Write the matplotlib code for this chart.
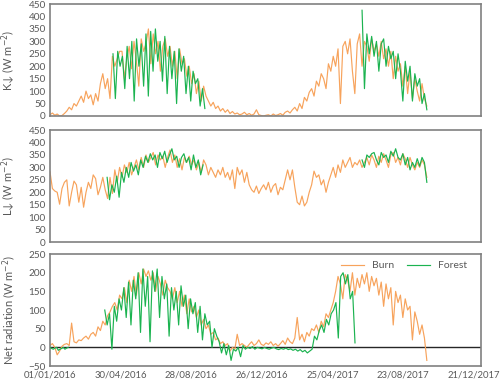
import numpy as np
import pandas as pd
import matplotlib
matplotlib.use("Agg")
import matplotlib.pyplot as plt

# ── Datos (muestreo aprox. cada 4 días) ───────────────────
BURN_START, BURN_END = "2016-01-01", "2017-10-02"

# K↓ incoming shortwave (W m-2)
burn_k = [
    5, 12, 3, 8, 0, 2, 10, 20, 35, 25,
    50, 40, 60, 80, 55, 100, 70, 85, 45, 90,
    60, 130, 170, 110, 150, 70, 240, 200, 230, 260,
    260, 150, 230, 280, 190, 300, 220, 120, 310, 260,
    290, 350, 210, 330, 250, 300, 180, 280, 310, 240,
    280, 200, 260, 150, 270, 210, 230, 160, 200, 130,
    170, 90, 140, 60, 120, 80, 60, 40, 55, 30,
    40, 20, 30, 15, 25, 10, 18, 8, 12, 5,
    8, 15, 5, 10, 3, 8, 25, 5, 2, 0,
    3, 5, 0, 8, 2, 5, 10, 3, 15, 20,
    12, 25, 35, 20, 50, 30, 75, 60, 95, 110,
    80, 140, 120, 170, 150, 110, 210, 180, 240, 200,
    270, 50, 280, 300, 250, 310, 180, 90, 290, 330,
    200, 300, 280, 220, 310, 260, 290, 240, 300, 230,
    270, 200, 260, 150, 240, 180, 210, 120, 200, 90,
    180, 70, 150, 100, 60, 130, 70, 40,
]
forest_k1_span = ("2016-04-17", "2016-09-20")
forest_k1 = [
    250, 70, 260, 200, 240, 110, 280, 150, 300, 60,
    310, 200, 290, 120, 330, 80, 340, 180, 350, 220,
    300, 140, 320, 90, 280, 150, 260, 50, 270, 180,
    240, 90, 200, 60, 180, 130, 150, 40, 110, 30,
]
forest_k2_span = ("2017-06-14", "2017-10-02")
forest_k2 = [
    425, 110, 330, 250, 320, 240, 300, 180, 290, 310,
    200, 280, 230, 260, 150, 250, 180, 60, 220, 140,
    200, 60, 170, 120, 150, 50, 90, 25,
]

# L↓ incoming longwave (W m-2)
burn_l = [
    282, 215, 205, 200, 152, 215, 240, 250, 145, 200,
    245, 230, 160, 220, 140, 200, 240, 215, 270, 255,
    190, 220, 260, 210, 175, 260, 195, 290, 240, 300,
    260, 310, 280, 320, 270, 300, 330, 290, 340, 300,
    350, 320, 340, 360, 310, 350, 330, 345, 300, 340,
    370, 320, 350, 300, 335, 290, 340, 320, 345, 310,
    330, 290, 320, 280, 330, 310, 270, 300, 280, 260,
    290, 270, 300, 260, 280, 250, 290, 215, 300, 270,
    290, 240, 280, 230, 210, 200, 225, 195, 215, 230,
    210, 240, 200, 225, 235, 190, 220, 210, 250, 290,
    250, 290, 220, 160, 150, 185, 145, 160, 200, 230,
    285, 260, 270, 230, 250, 200, 240, 270, 300, 260,
    310, 280, 330, 300, 320, 340, 300, 320, 310, 330,
    300, 320, 340, 310, 350, 330, 300, 345, 320, 355,
    330, 300, 350, 360, 320, 340, 310, 355, 335, 300,
    340, 310, 290, 320, 300, 330, 310, 260,
]
forest_l1_span = ("2016-04-07", "2016-09-17")
forest_l1 = [
    260, 170, 230, 200, 265, 180, 280, 240, 300, 260,
    320, 285, 310, 270, 330, 300, 345, 320, 355, 330,
    350, 300, 360, 335, 365, 320, 350, 375, 330, 345,
    300, 340, 355, 320, 340, 290, 350, 300, 330, 270, 310,
]
forest_l2_span = ("2017-06-14", "2017-10-02")
forest_l2 = [
    330, 300, 350, 340, 355, 360, 330, 310, 360, 340,
    350, 320, 365, 345, 375, 340, 330, 355, 310, 340,
    290, 320, 300, 335, 305, 340, 320, 240,
]

# Net radiation (W m-2)
burn_net = [
    5, 10, 0, -20, -10, 3, 8, 10, 5, 65,
    15, 12, 20, 18, 25, 30, 22, 35, 40, 30,
    55, 45, 70, 60, 85, 95, 110, 120, 100, 140,
    130, 160, 120, 180, 150, 190, 140, 200, 170, 210,
    190, 205, 180, 200, 150, 190, 170, 140, 180, 160,
    150, 130, 160, 120, 150, 110, 140, 90, 130, 95,
    110, 80, 100, 60, 75, 50, 60, 35, 40, 20,
    25, 10, 15, 5, 10, -10, 0, -5, 35, 5,
    10, 5, 0, 8, 15, 5, 10, 20, 8, 5,
    12, 8, 15, 5, 10, 3, 10, 18, 8, 25,
    15, 10, 25, 80, 20, 35, 15, 40, 30, 50,
    45, 60, 40, 70, 55, 90, 80, 100, 120, 150,
    190, 170, 130, 195, 180, 150, 200, 140, 185, 160,
    195, 170, 200, 150, 190, 165, 185, 140, 175, 110,
    170, 130, 160, 60, 150, 120, 140, 80, 130, 100,
    110, 20, 95, 70, 35, 60, 25, -35,
]
forest_net0_span = ("2016-01-01", "2016-02-01")
forest_net0 = [0, -3, -5, -2, 0, -8, -5, -3, 0, -5, -2, 0]
forest_net1_span = ("2016-04-03", "2017-06-02")
forest_net1 = [
    100, 60, 90, -5, 110, 70, 130, 100, 160, 80,
    175, 60, 180, 130, 200, 40, 210, 110, 190, 15,
    205, 150, 210, 80, 190, 130, 170, 30, 160, 100,
    150, 60, 165, 110, 140, 50, 130, 90, 120, 40,
    110, 20, 90, 60, 70, 0, 50, 30, 15, -15,
    10, -20, 5, -35, -5, -10, 0, -25, 5, -5,
    0, -3, 2, -5, 0, -2, -4, 0, -3, -5,
    -2, 0, -4, -6, -3, -5, -2, -6, -4, -8,
    -5, -10, -6, -12, -8, -15, -10, -5, 30, 20,
    45, 60, 40, 75, 60, 90, 100, 120, 25, 190,
    200, 170, 195, 130, 150, 12,
]

tick_dates = pd.date_range("2016-01-01", periods=7, freq="120D")
X_END = pd.Timestamp("2018-01-02")

ORANGE = "#F7A35C"
GREEN = "#1BB350"
GRAY = "#595959"


def dates(span, values):
    return pd.date_range(span[0], span[1], periods=len(values))


plt.rcParams["font.family"] = ["Lato", "DejaVu Sans"]

fig = plt.figure(figsize=(5.0, 3.86), dpi=100)
left, width, height = 0.10, 0.862, 0.29
ax1 = fig.add_axes([left, 0.6995, width, height])
ax2 = fig.add_axes([left, 0.373, width, height], sharex=ax1)
ax3 = fig.add_axes([left, 0.0518, width, height], sharex=ax1)
LW = 0.85
burn_span = (BURN_START, BURN_END)

# K↓
ax1.plot(dates(burn_span, burn_k), burn_k, color=ORANGE, lw=LW)
ax1.plot(dates(forest_k1_span, forest_k1), forest_k1, color=GREEN, lw=LW)
ax1.plot(dates(forest_k2_span, forest_k2), forest_k2, color=GREEN, lw=LW)
ax1.set_ylim(0, 450)
ax1.set_yticks(np.arange(0, 451, 50))
ax1.set_ylabel("K↓ (W m$^{-2}$)")

# L↓
ax2.plot(dates(burn_span, burn_l), burn_l, color=ORANGE, lw=LW)
ax2.plot(dates(forest_l1_span, forest_l1), forest_l1, color=GREEN, lw=LW)
ax2.plot(dates(forest_l2_span, forest_l2), forest_l2, color=GREEN, lw=LW)
ax2.set_ylim(0, 450)
ax2.set_yticks(np.arange(0, 451, 50))
ax2.set_ylabel("L↓ (W m$^{-2}$)")

# Net radiation
ax3.axhline(0, color="#262626", lw=1.0, zorder=1)
ax3.plot(dates(burn_span, burn_net), burn_net, color=ORANGE, lw=LW, label="Burn", zorder=2)
ax3.plot(dates(forest_net0_span, forest_net0), forest_net0, color=GREEN, lw=LW, zorder=3)
ax3.plot(dates(forest_net1_span, forest_net1), forest_net1, color=GREEN, lw=LW,
         label="Forest", zorder=3)
ax3.set_ylim(-50, 250)
ax3.set_yticks(np.arange(-50, 251, 50))
ax3.set_ylabel("Net radiation (W m$^{-2}$)")
ax3.legend(loc="upper right", bbox_to_anchor=(0.99, 1.02), ncol=2, frameon=False,
           fontsize=7.5, handlelength=2.2, columnspacing=1.2, labelcolor=GRAY)

ax3.set_xlim(tick_dates[0], X_END)
ax3.set_xticks(tick_dates)
ax3.set_xticklabels([d.strftime("%d/%m/%Y") for d in tick_dates])

for ax in (ax1, ax2, ax3):
    for sp in ax.spines.values():
        sp.set_color("#808080")
        sp.set_linewidth(1.2)
    ax.tick_params(length=0, labelsize=7.2, colors=GRAY, pad=3)
    ax.yaxis.label.set_color(GRAY)
    ax.yaxis.label.set_fontsize(8)
    ax.yaxis.set_label_coords(-0.074, 0.5)
ax3.tick_params(axis="x", labelsize=6.8)
for ax in (ax1, ax2):
    ax.tick_params(labelbottom=False)

fig.savefig("out.png", dpi=100)
